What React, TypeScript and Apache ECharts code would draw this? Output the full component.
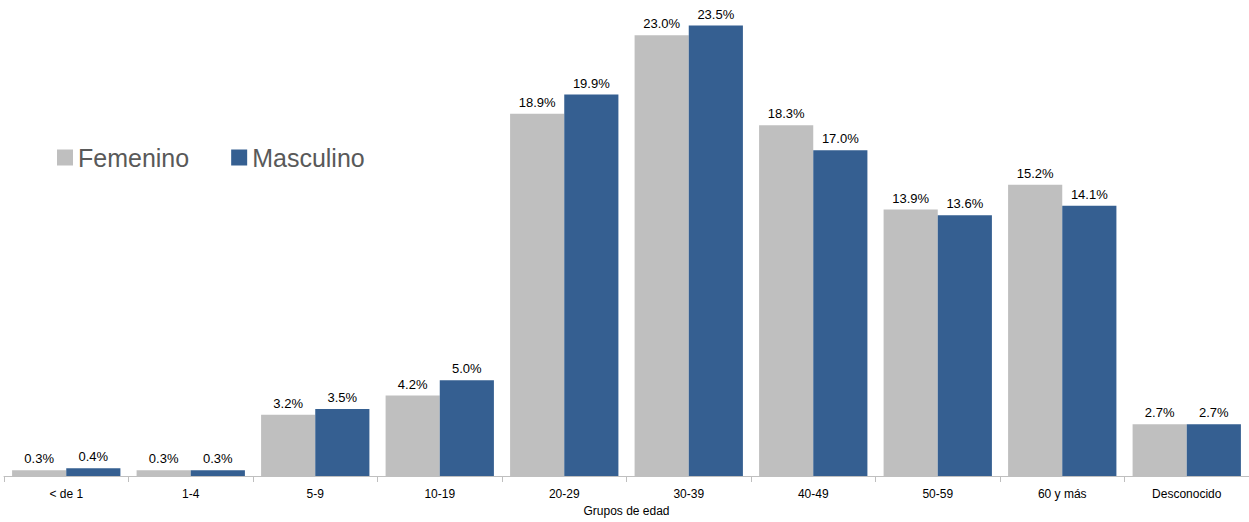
import { useEffect, useRef } from 'react';
import * as echarts from 'echarts';

const categories = ['< de 1', '1-4', '5-9', '10-19', '20-29', '30-39', '40-49', '50-59', '60 y más', 'Desconocido'];
const femenino = [0.3, 0.3, 3.2, 4.2, 18.9, 23.0, 18.3, 13.9, 15.2, 2.7];
const masculino = [0.4, 0.3, 3.5, 5.0, 19.9, 23.5, 17.0, 13.6, 14.1, 2.7];

const font = 'Liberation Sans, Arial, sans-serif';

export default function App() {
  const chartRef = useRef<HTMLDivElement>(null);

  useEffect(() => {
    document.body.style.margin = '0';
    if (!chartRef.current) return;
    const chart = echarts.init(chartRef.current, undefined, { renderer: 'svg' });

    const label = {
      show: true,
      position: 'top' as const,
      color: '#000',
      fontSize: 13,
      fontFamily: font,
      formatter: (p: any) => `${p.value.toFixed(1)}%`,
    };

    chart.setOption({
      animation: false,
      textStyle: { fontFamily: font },
      legend: {
        left: 52,
        top: 140,
        itemWidth: 16,
        itemHeight: 16,
        itemGap: 42,
        icon: 'rect',
        textStyle: { fontSize: 25, color: '#595959', fontFamily: font },
      },
      grid: { left: 4, right: 0, top: 16, bottom: 36 },
      xAxis: {
        type: 'category',
        data: categories,
        name: 'Grupos de edad',
        nameLocation: 'middle',
        nameGap: 29,
        nameTextStyle: { fontSize: 12, color: '#000' },
        axisLine: { lineStyle: { color: '#BFBFBF' } },
        axisTick: { show: true, length: 6, lineStyle: { color: '#BFBFBF' } },
        axisLabel: { fontSize: 12, color: '#000', margin: 12 },
      },
      yAxis: { type: 'value', min: 0, max: 24, show: false, splitLine: { show: false } },
      series: [
        {
          name: 'Femenino',
          type: 'bar',
          data: femenino,
          itemStyle: { color: '#BFBFBF' },
          barGap: '0%',
          barCategoryGap: '13%',
          label,
        },
        {
          name: 'Masculino',
          type: 'bar',
          data: masculino,
          itemStyle: { color: '#355F91' },
          barGap: '0%',
          barCategoryGap: '13%',
          label,
        },
      ],
    });

    return () => chart.dispose();
  }, []);

  return <div ref={chartRef} style={{ width: '1249px', height: '522px' }} />;
}
